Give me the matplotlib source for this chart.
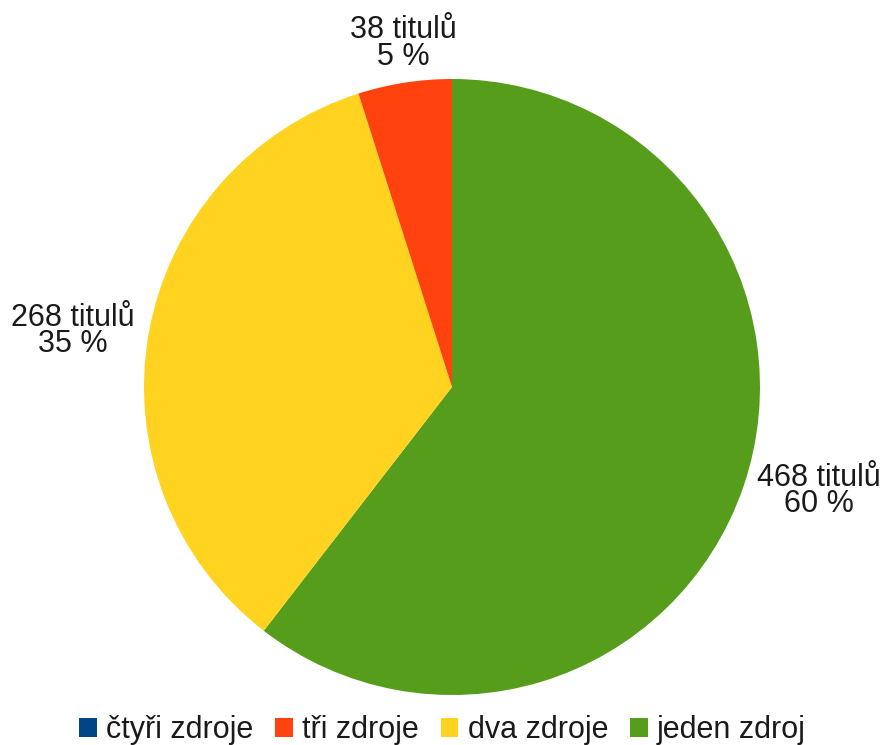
import numpy as np
import matplotlib
matplotlib.use("Agg")
import matplotlib.pyplot as plt
from matplotlib.patches import Patch

plt.rcParams['font.family'] = ['Liberation Sans', 'DejaVu Sans']

# data (pie drawn clockwise from 12 o'clock)
categories = ["jeden zdroj", "dva zdroje", "tři zdroje", "čtyři zdroje"]
values = [468, 268, 38, 0]
colors = ["#579D1C", "#FFD320", "#FF420E", "#004586"]

W, H = 883, 745
fig = plt.figure(figsize=(W / 100, H / 100), dpi=100)
cx, cy, r = 452, 387, 308
ax = fig.add_axes([(cx - r) / W, (H - cy - r) / H, 2 * r / W, 2 * r / H])

wedges, _ = ax.pie(values, colors=colors, startangle=90, counterclock=False,
                   radius=1, wedgeprops=dict(linewidth=0))
ax.set_xlim(-1, 1)
ax.set_ylim(-1, 1)
ax.set_aspect('auto')
ax.axis('off')

total = sum(values)
fs = 22
tc = "#1a1a1a"
for w, v in zip(wedges, values):
    if v == 0:
        continue
    mid = np.deg2rad((w.theta1 + w.theta2) / 2)
    pct = round(v / total * 100)
    txt = f"{v} titulů\n{pct} %"
    c, s = np.cos(mid), np.sin(mid)
    if abs(c) > 0.5:
        d = 1.045
        ha = 'left' if c > 0 else 'right'
        va = 'center'
    else:
        d = 1.035
        ha = 'center'
        va = 'bottom' if s > 0 else 'top'
    ax.text(d * c, d * s, txt, ha=ha, va=va, fontsize=fs, color=tc,
            multialignment='center', linespacing=0.85, clip_on=False)

handles = [Patch(facecolor=col, edgecolor='none', label=cat)
           for cat, col in zip(categories[::-1], colors[::-1])]
fig.legend(handles=handles, loc='lower center', bbox_to_anchor=(0.501, 0.0),
           ncol=4, frameon=False, fontsize=fs, handlelength=0.58, handleheight=0.58,
           handletextpad=0.3, columnspacing=0.72, borderpad=0, borderaxespad=0,
           labelcolor=tc)

fig.savefig("out.png", dpi=100)
